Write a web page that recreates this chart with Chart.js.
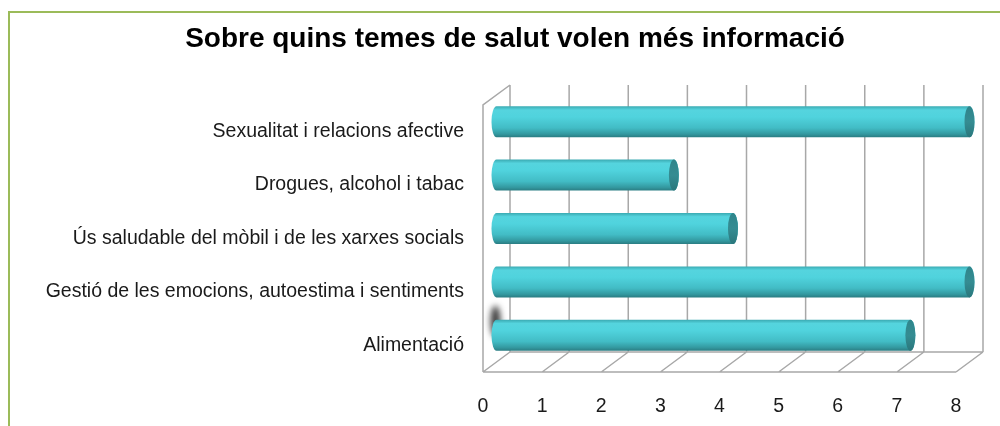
<!DOCTYPE html>
<html>
<head>
<meta charset="utf-8">
<script src="https://cdn.jsdelivr.net/npm/chart.js@4/dist/chart.umd.min.js"></script>
<style>
    html, body { margin: 0; padding: 0; background: #fff; }
    #wrap { position: relative; width: 1000px; height: 426px; }
</style>
</head>
<body>
<div id="wrap"><canvas id="chart"></canvas></div>
<script>
    // Dades del gràfic
    const titol = "Sobre quins temes de salut volen més informació";
    const temes = [
        "Sexualitat i relacions afective",
        "Drogues, alcohol i tabac",
        "Ús saludable del mòbil i de les xarxes socials",
        "Gestió de les emocions, autoestima i sentiments",
        "Alimentació"
    ];
    const respostes = [8, 3, 4, 8, 7];
    const eixX = [0, 1, 2, 3, 4, 5, 6, 7, 8];

    // profunditat de l'efecte 3D
    const DX = 27, DY = 20;
    const FONT = "'Liberation Sans', Arial, sans-serif";

    // Marc verd
    const marc = {
        id: "marc",
        beforeDraw(chart) {
            const ctx = chart.ctx;
            ctx.save();
            ctx.strokeStyle = "#9bbb59";
            ctx.lineWidth = 2;
            ctx.strokeRect(9, 12, chart.width + 20, chart.height + 20);
            ctx.restore();
        }
    };

    // Parets i terra 3D
    const parets = {
        id: "parets",
        beforeDatasetsDraw(chart) {
            const ctx = chart.ctx;
            const xs = chart.scales.x;
            const area = chart.chartArea;
            const top = area.top, bottom = area.bottom;
            const x0 = xs.getPixelForValue(eixX[0]);
            const xn = xs.getPixelForValue(eixX[eixX.length - 1]);
            ctx.save();
            ctx.strokeStyle = "#a8a8a8";
            ctx.lineWidth = 1.5;
            ctx.beginPath();
            // paret del fons
            eixX.forEach(v => {
                const px = xs.getPixelForValue(v);
                ctx.moveTo(px + DX, top - DY);
                ctx.lineTo(px + DX, bottom - DY);
                ctx.moveTo(px, bottom);
                ctx.lineTo(px + DX, bottom - DY);
            });
            // terra
            ctx.moveTo(x0, bottom);
            ctx.lineTo(xn, bottom);
            ctx.moveTo(x0 + DX, bottom - DY);
            ctx.lineTo(xn + DX, bottom - DY);
            // paret esquerra
            ctx.moveTo(x0, bottom);
            ctx.lineTo(x0, top);
            ctx.lineTo(x0 + DX, top - DY);
            ctx.stroke();
            ctx.restore();
        }
    };

    // Barres cilíndriques
    const cilindres = {
        id: "cilindres",
        afterDatasetsDraw(chart) {
            const ctx = chart.ctx;
            const meta = chart.getDatasetMeta(0);
            const ox = DX / 2, oy = -DY / 2;
            meta.data.forEach((bar, i) => {
                const p = bar.getProps(["x", "y", "base", "height"], true);
                const cy = p.y + oy;
                const x = p.x + ox;
                const base = p.base + ox;
                const h = p.height;
                const r = h / 2;
                const rx = 5;
                const t = cy - r;

                ctx.save();
                // ombra a l'extrem de l'última barra
                if (i === meta.data.length - 1) {
                    ctx.save();
                    ctx.filter = "blur(3px)";
                    ctx.fillStyle = "rgba(25,25,25,0.85)";
                    ctx.beginPath();
                    ctx.ellipse(base - 1, cy - 14, 5, r, 0, 0, Math.PI * 2);
                    ctx.fill();
                    ctx.restore();
                }
                const g = ctx.createLinearGradient(0, t, 0, t + h);
                g.addColorStop(0, "#3aaab2");
                g.addColorStop(0.12, "#55d4de");
                g.addColorStop(0.35, "#50d3dd");
                g.addColorStop(0.7, "#42bcc5");
                g.addColorStop(0.9, "#33989f");
                g.addColorStop(1, "#2a7c82");
                ctx.fillStyle = g;
                ctx.beginPath();
                ctx.moveTo(base, t);
                ctx.lineTo(x, t);
                ctx.ellipse(x, cy, rx, r, 0, -Math.PI / 2, Math.PI / 2);
                ctx.lineTo(base, t + h);
                ctx.ellipse(base, cy, rx, r, 0, Math.PI / 2, Math.PI * 1.5);
                ctx.closePath();
                ctx.fill();

                // tapa
                const gc = ctx.createLinearGradient(0, t, 0, t + h);
                gc.addColorStop(0, "#2f858b");
                gc.addColorStop(0.5, "#358c92");
                gc.addColorStop(1, "#2a777c");
                ctx.fillStyle = gc;
                ctx.beginPath();
                ctx.ellipse(x, cy, rx, r, 0, 0, Math.PI * 2);
                ctx.fill();
                ctx.restore();
            });
        }
    };

    new Chart(document.getElementById("chart"), {
        type: "bar",
        data: {
            labels: temes,
            datasets: [{
                data: respostes,
                backgroundColor: "rgba(0,0,0,0)",
                borderWidth: 0,
                barThickness: 31
            }]
        },
        options: {
            indexAxis: "y",
            responsive: true,
            maintainAspectRatio: false,
            animation: false,
            layout: { padding: { left: 30, right: 0, top: 0, bottom: 0 } },
            plugins: {
                legend: { display: false },
                tooltip: { enabled: false },
                title: {
                    display: true,
                    text: titol,
                    color: "#000",
                    font: { family: FONT, size: 28, weight: "bold" },
                    padding: { top: 22.5, bottom: 48.9 }
                }
            },
            scales: {
                x: {
                    min: 0,
                    max: 8,
                    afterFit(scale) { scale.height = 54; },
                    afterBuildTicks(scale) { scale.ticks = eixX.map(v => ({ value: v })); },
                    grid: { display: false, drawTicks: false },
                    border: { display: false },
                    ticks: {
                        color: "#1a1a1a",
                        padding: 23,
                        font: { family: FONT, size: 19.5 }
                    }
                },
                y: {
                    afterFit(scale) { scale.width = 453; },
                    grid: { display: false, drawTicks: false },
                    border: { display: false },
                    ticks: {
                        color: "#1a1a1a",
                        padding: 19,
                        font: { family: FONT, size: 19.5 }
                    }
                },
                // eix buit a la dreta per reservar marge
                y2: {
                    axis: "y",
                    type: "category",
                    position: "right",
                    afterFit(scale) { scale.width = 44; },
                    grid: { display: false, drawTicks: false },
                    border: { display: false },
                    ticks: { display: false }
                }
            }
        },
        plugins: [marc, parets, cilindres]
    });
</script>
</body>
</html>
